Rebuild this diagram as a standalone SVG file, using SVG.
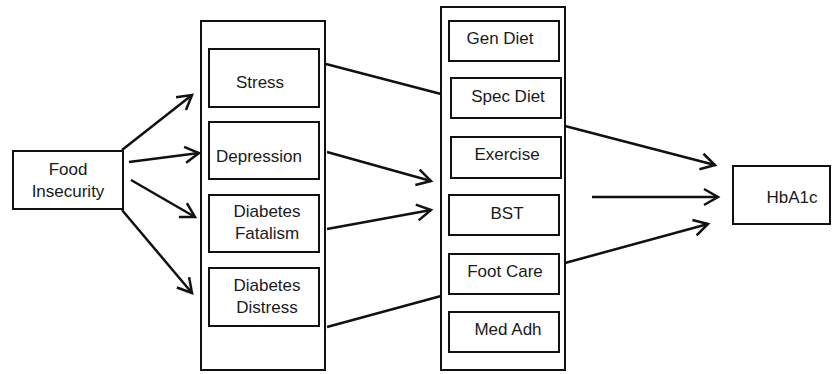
<svg xmlns="http://www.w3.org/2000/svg" width="832" height="374" viewBox="0 0 832 374">
<defs>
<marker id="arr" markerUnits="userSpaceOnUse" markerWidth="20" markerHeight="20" viewBox="0 0 20 20" refX="16" refY="10" orient="auto">
<path d="M2,2 L16,10 L2,18" fill="none" stroke="#111" stroke-width="2.5"/>
</marker>
<style>
.box{fill:#fff;stroke:#111;stroke-width:2}
.outer{fill:#fff;stroke:#111;stroke-width:2}
.t{font-family:"Liberation Sans",Arial,sans-serif;font-size:17px;fill:#1a1a1a;text-anchor:middle}
.c{stroke:#111;stroke-width:2.5;fill:none}
.a{marker-end:url(#arr)}
</style>
</defs>
<rect width="832" height="374" fill="#fff"/>
<g id="mediators-panel"><rect class="outer" x="201" y="21" width="124" height="349"/></g>
<g id="behaviors-panel"><rect class="outer" x="441" y="7" width="124" height="363"/></g>
<g id="food-insecurity"><rect class="box" x="13" y="151" width="110" height="58"/><text class="t" x="68" y="175">Food</text><text class="t" x="68" y="197">Insecurity</text></g>
<g id="stress"><rect class="box" x="209" y="49" width="110" height="58"/><text class="t" x="260" y="88">Stress</text></g>
<g id="depression"><rect class="box" x="209" y="122" width="110" height="57"/><text class="t" x="259" y="162">Depression</text></g>
<g id="diabetes-fatalism"><rect class="box" x="209" y="195" width="110" height="57"/><text class="t" x="267" y="217">Diabetes</text><text class="t" x="267" y="239">Fatalism</text></g>
<g id="diabetes-distress"><rect class="box" x="209" y="268" width="110" height="58"/><text class="t" x="267" y="291">Diabetes</text><text class="t" x="267" y="313">Distress</text></g>
<g id="gen-diet"><rect class="box" x="449" y="21" width="110" height="40"/><text class="t" x="500" y="44">Gen Diet</text></g>
<g id="spec-diet"><rect class="box" x="451" y="78" width="110" height="40"/><text class="t" x="508" y="102">Spec Diet</text></g>
<g id="exercise"><rect class="box" x="451" y="137" width="110" height="41"/><text class="t" x="507" y="160">Exercise</text></g>
<g id="bst"><rect class="box" x="449" y="195" width="110" height="40"/><text class="t" x="507" y="219">BST</text></g>
<g id="foot-care"><rect class="box" x="449" y="254" width="110" height="40"/><text class="t" x="505" y="277">Foot Care</text></g>
<g id="med-adh"><rect class="box" x="449" y="312" width="110" height="40"/><text class="t" x="508" y="335">Med Adh</text></g>
<g id="hba1c"><rect class="box" x="733" y="166" width="97" height="58"/><text class="t" x="792" y="203">HbA1c</text></g>
<g id="connectors">
<line class="c a" x1="122" y1="150" x2="192" y2="95"/>
<line class="c a" x1="129" y1="162" x2="199" y2="153"/>
<line class="c a" x1="131" y1="180" x2="195" y2="217"/>
<line class="c a" x1="122" y1="210" x2="192" y2="293"/>
<line class="c" x1="326" y1="64" x2="441" y2="94"/>
<line class="c a" x1="327" y1="152" x2="431" y2="181"/>
<line class="c a" x1="327" y1="229" x2="431" y2="210"/>
<line class="c" x1="327" y1="327" x2="441" y2="296"/>
<line class="c a" x1="565" y1="126" x2="715" y2="165"/>
<line class="c a" x1="592" y1="197" x2="718" y2="197"/>
<line class="c a" x1="565" y1="263" x2="708" y2="224"/>
</g>
</svg>
